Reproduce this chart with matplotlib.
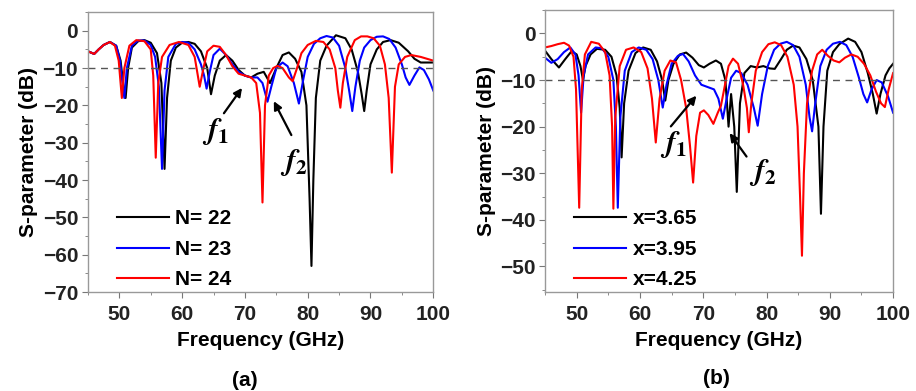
import matplotlib
matplotlib.use("Agg")
import matplotlib.pyplot as plt
from matplotlib.ticker import MultipleLocator

plt.rcParams["font.family"] = ["Liberation Sans", "DejaVu Sans"]
plt.rcParams["font.weight"] = "bold"
plt.rcParams["axes.labelweight"] = "bold"
plt.rcParams["mathtext.fontset"] = "stix"

# ---- panel (a): number of cells N ----
a_n22_f = [45, 46, 46.7, 47.5, 48.5, 49.5, 50.2, 50.6, 51.0, 51.4, 52, 53, 54, 55, 56, 56.7, 57.2, 57.6,
           58.2, 59, 60, 61, 62, 63, 64, 64.6, 65.2, 66, 67, 68, 69, 70, 71, 72, 73, 74, 75, 76, 77, 78,
           79, 79.8, 80.3, 80.6, 80.9, 81.3, 82, 83, 84.5, 86, 87, 88, 88.6, 89, 89.4, 90, 91, 92, 93.2,
           94.5, 96, 97, 98, 99, 100]
a_n22_db = [-5.5, -6.2, -5, -3.8, -3.0, -4, -8, -14, -18, -10, -4.5, -2.8, -2.5, -3.2, -6, -14, -37, -18,
            -8, -4.5, -3.2, -3, -3.5, -5.5, -10, -17, -12, -8, -6.5, -8, -10.5, -12, -12.5, -11.5, -11, -14,
            -10, -6.5, -5.8, -7.5, -11, -20, -45, -63, -40, -18, -8, -4, -1.2, -2, -5, -11, -17, -21.5,
            -16, -9, -5, -3, -2.5, -3.2, -5.5, -7.5, -8.5, -8.5, -8.5]

a_n23_f = [45, 46, 46.7, 47.5, 48.5, 49.5, 50.1, 50.5, 50.8, 51.2, 52, 53, 54, 55, 55.7, 56.3, 56.8, 57.2,
           57.8, 59, 60, 61, 62, 63, 63.5, 63.9, 64.4, 65, 66, 67, 68, 69, 70, 71, 72, 72.8, 73.6, 74.2,
           75, 76, 76.8, 77.8, 78.6, 79.3, 80, 81, 82, 83, 84, 85, 86, 86.6, 87.1, 87.6, 88.3, 89, 90, 91,
           92, 93, 94, 95, 95.6, 96.2, 97, 97.8, 98.5, 99.3, 100]
a_n23_db = [-5.5, -6.2, -5, -3.8, -3.0, -4, -8, -14, -18, -10, -4, -2.6, -2.6, -3.8, -7, -15, -37, -16,
            -7, -3.5, -3, -3.2, -5, -9, -12, -15.5, -11, -6.5, -4.8, -6.5, -9, -11, -12, -12.5, -12.5, -14,
            -19, -15, -10, -8.5, -9.5, -14, -19.5, -13, -7, -3.5, -2, -1.4, -1.8, -4, -10, -16, -21.5, -15,
            -8, -4.5, -2.5, -1.6, -1.5, -2.2, -4.5, -9, -12.5, -14.5, -12, -9.8, -10.5, -13, -16]

a_n24_f = [45, 46, 46.7, 47.5, 48.5, 49.3, 49.9, 50.2, 50.4, 50.8, 51.6, 52.7, 54, 55, 55.4, 55.8, 56.2,
           56.8, 58, 59.5, 61, 62, 62.8, 63.4, 64, 65, 66, 67, 68, 69, 70, 71, 71.8, 72.4, 72.8, 73.2,
           73.8, 74.5, 75.2, 76, 77, 77.6, 78.3, 79, 80, 81.3, 82.5, 83.5, 84.4, 84.8, 85.2, 85.6, 86.3,
           87.5, 88.5, 89.5, 90.5, 91.5, 92.3, 92.9, 93.4, 93.9, 94.5, 95.5, 96.5, 98, 99, 100]
a_n24_db = [-5.5, -6.2, -5, -3.8, -3.0, -4, -8, -14, -18, -10, -4, -2.5, -2.8, -5, -12, -34, -14,
            -7, -3.8, -3, -3.8, -7, -15, -10, -5.5, -4, -4.3, -6.5, -9.5, -11.5, -12, -12.5, -14, -22,
            -46, -20, -12, -10, -9.4, -10, -12.5, -13.5, -10, -6, -3.8, -2.7, -3, -5, -10, -16, -20.6,
            -14, -7, -2.5, -1.5, -1.5, -2, -4, -9, -18, -38, -15, -9, -7, -6.5, -7, -7.5, -8]

# ---- panel (b): parameter x ----
b_x365_f = [45, 46, 47.2, 48.2, 49.2, 50, 50.6, 51, 51.4, 52.2, 53.2, 54.5, 55.5, 56.3, 56.8, 57.1, 57.5,
            58.2, 59.3, 60.5, 61.7, 62.7, 63.5, 64, 64.5, 65.3, 66.3, 67.3, 68.3, 69.3, 70.1, 71, 72, 72.8,
            73.5, 74, 74.4, 74.9, 75.3, 75.8, 76.5, 77.5, 78.5, 79.5, 80.5, 81.3, 82.3, 83.2, 84.2, 85.2,
            86.3, 87.3, 88.2, 88.6, 89, 89.6, 90.5, 91.5, 92.9, 94, 95, 96, 96.8, 97.4, 98, 98.8, 99.4, 100]
b_x365_db = [-3.7, -5.5, -7.3, -5.5, -3.8, -4.5, -7, -10, -7, -4.5, -3.3, -3.5, -5, -9, -16, -26.6, -15,
             -8, -4.2, -3, -3.5, -6, -10, -14.4, -10, -6.5, -4.5, -4.1, -5.2, -6.8, -7.3, -6.5, -5.8, -6.5,
             -10, -20, -13, -20, -34, -15, -8.5, -7, -7.3, -7, -7.5, -7.6, -5.5, -3.5, -2.6, -3,
             -5.5, -10, -20, -38.7, -20, -8, -4, -2.3, -1.1, -1.8, -4, -8.5, -13, -17.2, -13, -9, -7.5, -6.5]

b_x395_f = [45, 46, 47, 48, 49, 49.8, 50.3, 50.7, 51.1, 51.8, 53, 54, 55, 55.8, 56.2, 56.5, 56.9, 57.6,
            58.7, 59.8, 61, 62, 62.9, 63.6, 64.2, 65, 66, 66.8, 67.7, 68.7, 69.7, 70.7, 71.7, 72.4, 73.1,
            73.7, 74.4, 75.2, 76, 77, 78, 78.6, 79.3, 80.2, 81.2, 82.2, 83.2, 84.2, 85.2, 86.2, 86.8, 87.2,
            87.7, 88.5, 89.5, 90.5, 91.6, 92.6, 93.6, 94.6, 95.3, 95.9, 96.6, 97.4, 98.2, 99.2, 100]
b_x395_db = [-5.2, -6.3, -5.5, -4, -3, -4.5, -9, -17, -9, -4.5, -3, -3.2, -5, -10, -20, -37.4, -18, -8,
             -4, -3, -3.5, -5.5, -10, -15.9, -11, -6.5, -4.8, -4.4, -6, -9, -11, -11.5, -12, -14, -18.3,
             -14, -9.5, -8, -8.5, -11, -16, -19.8, -13, -7, -3.5, -2.2, -1.8, -2.5, -5, -11, -18, -21,
             -15, -7, -3.5, -2.2, -1.8, -2.5, -5, -9.5, -13, -14.8, -12, -10, -10.5, -13.5, -17]

b_x425_f = [45, 46, 47, 48, 48.8, 49.5, 49.9, 50.4, 50.8, 51.3, 52.3, 53.5, 54.5, 55.2, 55.6, 55.8, 56.1,
            56.8, 57.8, 59, 60.2, 61.2, 61.9, 62.5, 63.1, 63.9, 64.8, 65.7, 66.5, 67.3, 67.9, 68.4, 68.9,
            69.5, 70.1, 70.8, 71.6, 72.3, 72.8, 73.3, 74, 74.7, 75.5, 76.3, 76.9, 77.2, 77.6, 78.3, 79.3,
            80.3, 81.3, 82.3, 83.3, 84.3, 84.9, 85.3, 85.6, 85.9, 86.4, 87.2, 88, 88.8, 89.7, 90.6, 91.5,
            92.4, 93.4, 94.4, 95.4, 96.4, 97.3, 98.1, 98.7, 99.3, 100]
b_x425_db = [-3, -2.7, -2.3, -2, -2.6, -5, -12, -37.4, -12, -4.5, -1.8, -2.2, -4, -9, -20, -37.6, -18,
             -7, -3.5, -3, -4, -7.5, -14, -23.4, -14, -8, -5.8, -6.2, -10, -16, -24, -32, -22,
             -17, -16.5, -17.5, -19.4, -17, -15.5, -12, -7, -5.4, -6.5, -11, -16, -21.2, -15, -8, -4,
             -2.3, -1.9, -2.5, -5, -11, -20, -35, -47.7, -30, -15, -8, -4.5, -3.5, -4.8, -5.8, -6.2,
             -5.2, -4.5, -5, -6.5, -9, -12.5, -15, -15.8, -12, -8.5]

a_labels = ["N= 22", "N= 23", "N= 24"]
b_labels = ["x=3.65", "x=3.95", "x=4.25"]
colors = ["black", "#0000ff", "#ff0000"]
threshold = -10

fig = plt.figure(figsize=(9.16, 3.91), dpi=100)
ax_a = fig.add_axes([0.096, 0.253, 0.377, 0.716])
ax_b = fig.add_axes([0.595, 0.253, 0.380, 0.721])

series_a = [(a_n22_f, a_n22_db), (a_n23_f, a_n23_db), (a_n24_f, a_n24_db)]
series_b = [(b_x365_f, b_x365_db), (b_x395_f, b_x395_db), (b_x425_f, b_x425_db)]

for ax, series, labels in [(ax_a, series_a, a_labels), (ax_b, series_b, b_labels)]:
    for (f, db), lab, c in zip(series, labels, colors):
        ax.plot(f, db, color=c, lw=1.5, label=lab)
    ax.axhline(threshold, color="#555555", lw=1.0, ls=(0, (5, 4)))
    ax.set_xlim(45, 100)
    ax.xaxis.set_major_locator(MultipleLocator(10))
    ax.xaxis.set_minor_locator(MultipleLocator(5))
    ax.yaxis.set_major_locator(MultipleLocator(10))
    ax.yaxis.set_minor_locator(MultipleLocator(5))
    ax.tick_params(which="both", direction="out", labelsize=15, labelcolor="#222222")
    ax.tick_params(which="major", length=4, color="#777777")
    ax.tick_params(which="minor", length=2.5, color="#777777")
    ax.tick_params(axis="x", pad=5)
    ax.tick_params(axis="y", pad=3)
    for sp in ax.spines.values():
        sp.set_color("#999999")
        sp.set_linewidth(1.0)
    ax.set_xlabel("Frequency (GHz)", fontsize=15, labelpad=5)
    ax.set_ylabel("S-parameter (dB)", fontsize=15, labelpad=3)
    ax.legend(loc="lower left", bbox_to_anchor=(0.06, -0.02), frameon=False, fontsize=15,
              handlelength=2.5, handletextpad=0.3, labelspacing=0.55, borderaxespad=0.0)

ax_a.set_ylim(-70, 5)
ax_b.set_ylim(-55.5, 5)

arrow = dict(arrowstyle="-|>", color="black", lw=1.6, mutation_scale=12)
ax_a.annotate("", xy=(69.8, -14.7), xytext=(66.4, -22.7), arrowprops=arrow)
ax_a.annotate("", xy=(74.4, -18.2), xytext=(77.6, -28.6), arrowprops=arrow)
ax_a.text(65.3, -27.0, r"$\mathbf{\mathit{f}}_{1}$", fontsize=22, ha="center", va="center")
ax_a.text(77.8, -35.3, r"$\mathbf{\mathit{f}}_{2}$", fontsize=22, ha="center", va="center")

ax_b.annotate("", xy=(69.2, -12.9), xytext=(64.6, -20.4), arrowprops=arrow)
ax_b.annotate("", xy=(73.9, -20.9), xytext=(77.1, -26.9), arrowprops=arrow)
ax_b.text(65.3, -23.8, r"$\mathbf{\mathit{f}}_{1}$", fontsize=22, ha="center", va="center")
ax_b.text(79.5, -29.8, r"$\mathbf{\mathit{f}}_{2}$", fontsize=22, ha="center", va="center")

fig.text(0.267, 0.028, "(a)", fontsize=15, ha="center", va="center")
fig.text(0.782, 0.033, "(b)", fontsize=15, ha="center", va="center")

fig.savefig("out.png", dpi=100)
